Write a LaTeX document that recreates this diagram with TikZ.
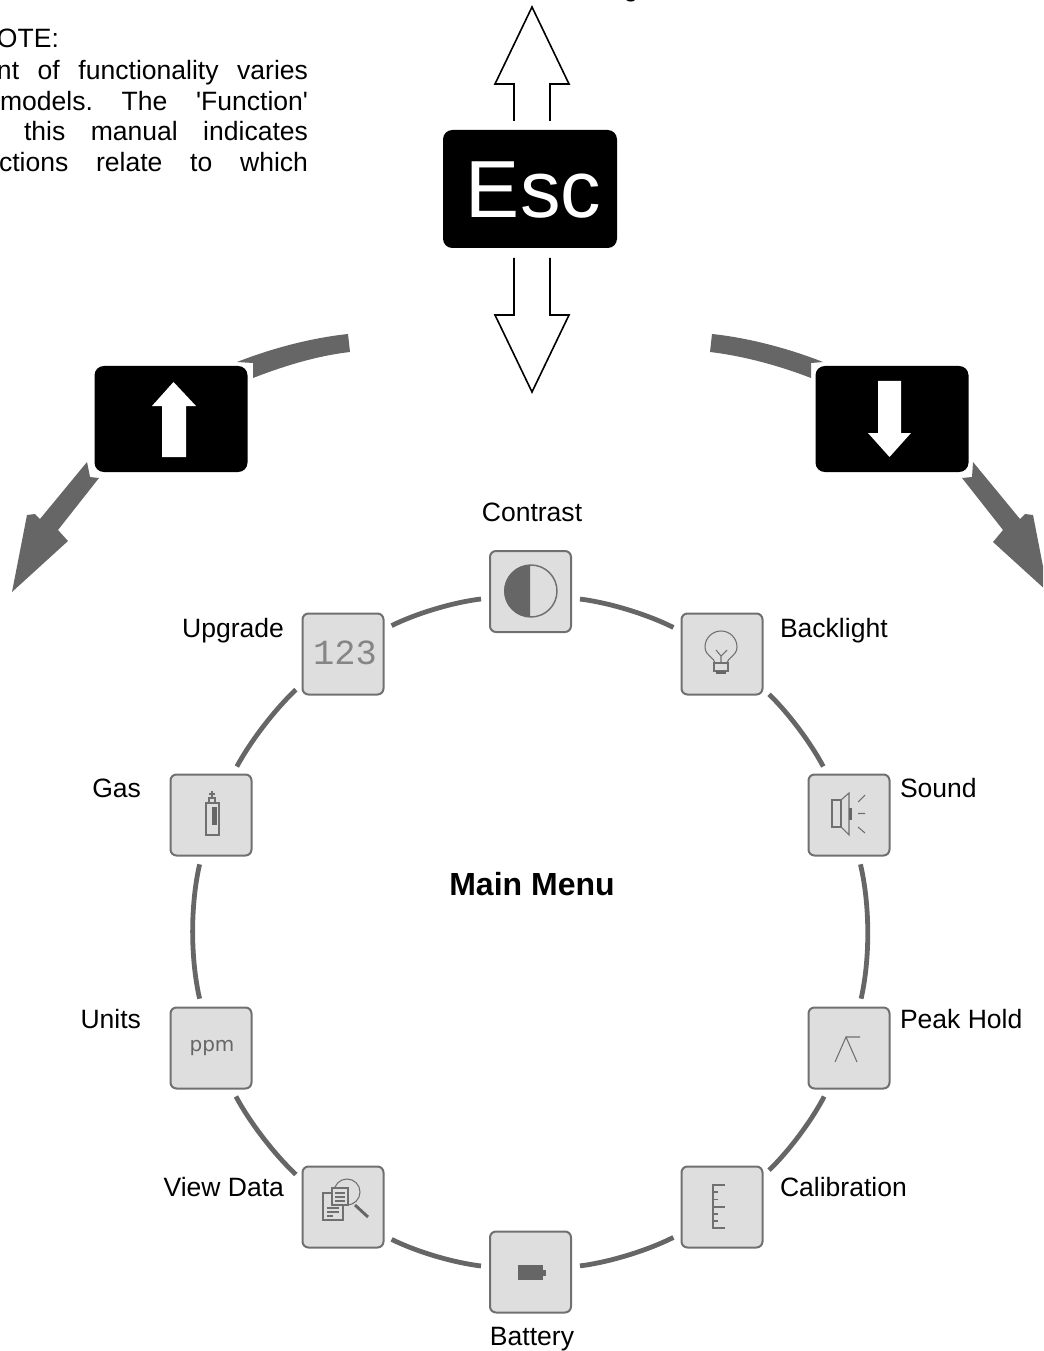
\documentclass[tikz,border=0pt]{standalone}
\usepackage{fontspec}
\setmainfont{Liberation Sans}
\newfontfamily\plainfam{Liberation Sans}
\newfontfamily\monofam{Liberation Mono}
\newfontfamily\dejafam{DejaVu Sans}
\definecolor{ringgray}{HTML}{666666}
\definecolor{boxfill}{HTML}{DEDEDE}
\definecolor{boxedge}{HTML}{707070}
\newcommand{\lblfont}{\fontsize{19.9pt}{24pt}\selectfont}
\tikzset{
  menubox/.style={draw=boxedge,fill=boxfill,line width=1.5pt,rounded corners=4.5pt,minimum size=60.75pt,inner sep=0pt,outer sep=0pt},
  ring/.style={draw=ringgray,line width=3.6pt,shorten <=6.8pt,shorten >=6.8pt,looseness=0.85},
  lbl/.style={font=\lblfont,text=black,inner sep=0pt,outer sep=0pt},
  lblL/.style={lbl,anchor=base west},
  lblR/.style={lbl,anchor=base east},
  lblC/.style={lbl,anchor=base},
  icon/.style={draw=boxedge,line width=1.1pt,fill=none},
  iconthin/.style={draw=boxedge,line width=0.8pt,fill=none},
  iconfill/.style={fill=ringgray,draw=none},
  blockarrow/.style={draw=black,line width=1.2pt,line join=miter,fill=none},
  keybox/.style={fill=black,draw=none,rounded corners=7pt,inner sep=0pt,outer sep=0pt},
  grayarrow/.style={fill=ringgray,draw=none},
  whitearrow/.style={fill=white,draw=none},
}
\begin{document}
\begin{tikzpicture}[x=0.75pt,y=-0.75pt]
\useasboundingbox (0,0) rectangle (1043,1351);
\clip (0,0) rectangle (1043,1351);
% cropped note
\node[lblL] (noteA) at (-3,48) {OTE:};
\node[lblL] (noteB) at (-3,80) {\hbox to 233.25pt{nt\hfill of\hfill functionality\hfill varies}};
\node[lblL] (noteC) at (0,111) {\hbox to 231pt{\plainfam models.\hfill The\hfill 'Function'}};
\node[lblL] (noteD) at (24,141) {\hbox to 213pt{this\hfill manual\hfill indicates}};
\node[lblL] (noteE) at (-1,172) {\hbox to 231.75pt{ctions\hfill relate\hfill to\hfill which}};
\node[lblC] (topg) at (631,-3.5) {g};
% Esc key
\node[keybox,minimum width=130.5pt,minimum height=88.5pt] (esc) at (530,189) {};
\node[font=\fontsize{60.75pt}{60pt}\selectfont,text=white,anchor=base,inner sep=0pt] (esclabel) at (533.5,218) {Esc};
\draw[blockarrow] (514,121) -- (514,84) -- (495,84) -- (532,7) -- (569,84) -- (550,84) -- (550,121);
\draw[blockarrow] (514,258) -- (514,315) -- (495,315) -- (532,392) -- (569,315) -- (550,315) -- (550,258);
% Up key
\node[keybox,minimum width=114.75pt,minimum height=79.5pt] (upkey) at (171,419) {};
\fill[whitearrow] (173.5,382) -- (196,406) -- (186,406) -- (186,457) -- (162,457) -- (162,406) -- (152,406) -- cycle;
\fill[grayarrow] (237,362) .. controls (270,349) and (310,338) .. (348,334) -- (350,352) .. controls (316,356) and (284,366) .. (253,378) -- (253,363) -- cycle;
\fill[grayarrow] (87,462) -- (90,477) -- (99,478) -- (58,530) -- (68,541) -- (12,592) -- (27,515) -- (35,514) -- (40,519) -- cycle;
% Down key
\node[keybox,minimum width=114.75pt,minimum height=79.5pt] (downkey) at (892,419) {};
\fill[whitearrow] (889.5,457) -- (868,433) -- (878,433) -- (878,381) -- (901,381) -- (901,433) -- (911,433) -- cycle;
\fill[grayarrow] (823,362) .. controls (790,349) and (750,338) .. (712,334) -- (710,352) .. controls (744,356) and (780,366) .. (811,378) -- (811,363) -- cycle;
\fill[grayarrow] (973,462) -- (972,477) -- (962,478) -- (1003,530) -- (993,542) -- (1048,592) -- (1033,515) -- (1025,514) -- (1020,519) -- cycle;
% menu boxes
\node[menubox] (contrast) at (530.5,591.5) {};
\node[menubox] (backlight) at (722,654) {};
\node[menubox] (sound) at (849,815) {};
\node[menubox] (peak) at (849,1048) {};
\node[menubox] (calib) at (722,1207) {};
\node[menubox] (battery) at (530.5,1272) {};
\node[menubox] (viewdata) at (343,1207) {};
\node[menubox] (units) at (211,1048) {};
\node[menubox] (gas) at (211,815) {};
\node[menubox] (upgrade) at (343,654) {};
% ring
\draw[ring] (contrast.-9.7) to[bend left=9.8] (backlight.151);
\draw[ring] (backlight.-40.9) to[bend left=9.1] (sound.118.2);
\draw[ring] (sound.-77.6) to[bend left=13] (peak.76.3);
\draw[ring] (peak.243.4) to[bend left=9.3] (calib.37);
\draw[ring] (calib.213) to[bend left=9.8] (battery.7);
\draw[ring] (battery.173) to[bend left=9.8] (viewdata.-35.3);
\draw[ring] (viewdata.147.3) to[bend left=9.3] (units.-63.4);
\draw[ring] (units.103.3) to[bend left=13] (gas.257.6);
\draw[ring] (gas.62.2) to[bend left=9.1] (upgrade.216.6);
\draw[ring] (upgrade.31.4) to[bend left=9.8] (contrast.189.7);
% contrast icon
\draw[icon] (531,591) circle[radius=26];
\fill[iconfill] (530,565) arc[start angle=270,end angle=90,radius=26] -- cycle;
% upgrade icon
\node[font=\monofam\fontsize{26.5pt}{26pt}\selectfont,text=boxedge!85,anchor=base,inner sep=0pt] (icon123) at (345,664) {123};
% bulb
\draw[iconthin] (715,663) .. controls (715,658) and (705,656) .. (705,647) arc[start angle=180,end angle=360,radius=16] .. controls (737,656) and (727,658) .. (727,663);
\draw[iconthin] (716,650) -- (721,656) -- (727,650) (721,656) -- (721,663);
\draw[icon] (714,663) rectangle (728,671);
\fill[iconfill] (716,671) rectangle (726,674);
% sound
\draw[icon] (832,800) rectangle (841,827);
\draw[iconthin] (841,800) -- (849,793) -- (849,835) -- (841,827);
\fill[iconfill] (849,808) rectangle (852,820);
\draw[iconthin] (858,802) -- (865,795) (858,813.5) -- (865,813.5) (858,827) -- (865,833);
% peak hold
\draw[iconthin] (835,1062) -- (846,1037) -- (857,1062) (846,1037) -- (860,1037);
% ruler
\draw[iconthin] (725,1185) -- (713,1185) -- (713,1228) -- (725,1228) (713,1207) -- (725,1207);
\draw[iconthin] (713,1192) -- (718,1192) (713,1199.5) -- (718,1199.5) (713,1214) -- (718,1214) (713,1221) -- (718,1221);
% battery
\fill[iconfill] (518,1265) rectangle (543,1280);
\fill[iconfill] (543,1270) rectangle (546,1276);
% gas
\draw[icon] (206,803) rectangle (219,835);
\draw[iconthin] (209,803) -- (209,798) -- (215,798) -- (215,803);
\draw[iconthin] (212,791) -- (212,797) (209,794) -- (215,794);
\fill[iconfill] (212,807) rectangle (217,825);
% ppm
\node[font=\dejafam\fontsize{15pt}{15pt}\selectfont,text=ringgray,anchor=base,inner sep=0pt] (iconppm) at (212,1051) {ppm};
% view data
\draw[iconthin] (347,1192) circle[radius=13];
\draw[iconthin,fill=boxfill] (323,1193) rectangle (343,1220);
\draw[iconthin,fill=boxfill] (332,1188) rectangle (348,1205);
\draw[iconthin] (335,1193) -- (345,1193) (335,1197) -- (345,1197) (335,1201) -- (345,1201);
\draw[iconthin] (327,1208) -- (339,1208) (327,1212) -- (339,1212) (327,1216) -- (333,1216);
\draw[draw=ringgray,line width=2.2pt] (355,1205) -- (368,1217);
% labels
\node[lblC] (lcontrast) at (532,521) {Contrast};
\node[lblR] (lupgrade) at (284,637) {Upgrade};
\node[lblL] (lbacklight) at (780,637) {Backlight};
\node[lblR] (lgas) at (141,797) {Gas};
\node[lblL] (lsound) at (900,797) {Sound};
\node[lblR] (lunits) at (141,1028) {Units};
\node[lblL] (lpeak) at (900,1028) {Peak Hold};
\node[lblR] (lview) at (284,1196) {View Data};
\node[lblL] (lcalib) at (780,1196) {Calibration};
\node[lblC] (lbattery) at (532,1345) {Battery};
\node[font=\bfseries\fontsize{24pt}{28pt}\selectfont,anchor=base,inner sep=0pt] (mainmenu) at (532,895) {Main Menu};
\end{tikzpicture}
\end{document}
